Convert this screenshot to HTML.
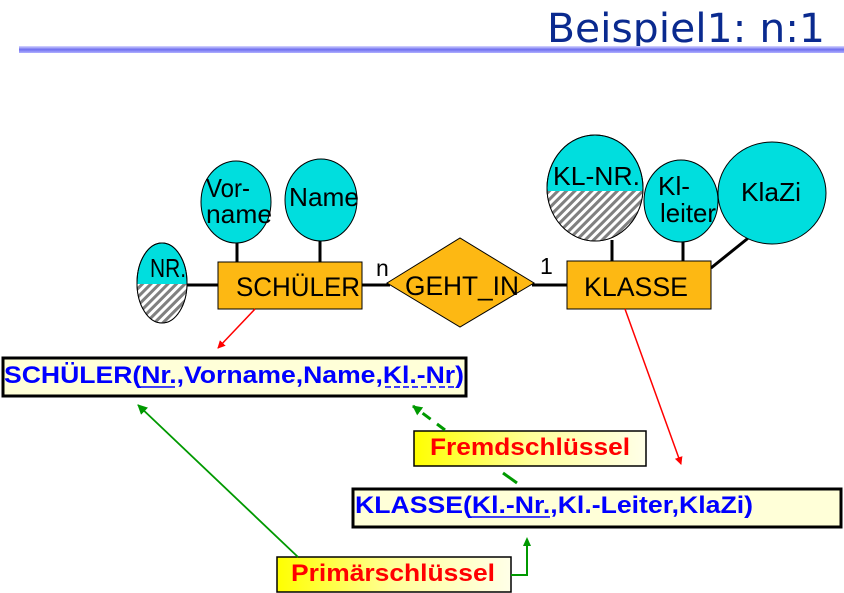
<!DOCTYPE html>
<html><head><meta charset="utf-8"><style>html,body{margin:0;padding:0;background:#fff}svg{display:block}</style></head>
<body>
<svg width="844" height="593" viewBox="0 0 844 593" xmlns="http://www.w3.org/2000/svg" font-family="Liberation Sans, Arial, sans-serif">
<defs>
<pattern id="h" width="6" height="6" patternUnits="userSpaceOnUse" patternTransform="rotate(45)">
<rect width="6" height="6" fill="#fff"/><rect width="3" height="6" fill="#808080"/></pattern>
<linearGradient id="bar" x1="0" y1="0" x2="0" y2="1"><stop offset="0" stop-color="#d8d8ff"/><stop offset="0.5" stop-color="#6f6ff0"/><stop offset="1" stop-color="#b0b0ff"/></linearGradient>
<linearGradient id="yg" x1="0" y1="0" x2="1" y2="0"><stop offset="0" stop-color="#ffff00"/><stop offset="0.5" stop-color="#ffff99"/><stop offset="1" stop-color="#ffffe8"/></linearGradient>
<clipPath id="c1"><ellipse cx="162" cy="283" rx="25" ry="40"/></clipPath>
<clipPath id="c2"><ellipse cx="595" cy="188" rx="48" ry="53"/></clipPath>
<marker id="ar" markerWidth="8" markerHeight="8" refX="7" refY="4" orient="auto" markerUnits="userSpaceOnUse"><path d="M0,0 L8,4 L0,8 Z" fill="red"/></marker>
<marker id="ag" markerWidth="10" markerHeight="10" refX="9" refY="5" orient="auto" markerUnits="userSpaceOnUse"><path d="M0,0 L10,5 L0,10 Z" fill="#009900"/></marker>
</defs>
<text x="547" y="42" font-family="DejaVu Sans, sans-serif" font-size="40" fill="#0a2a8f" textLength="278" lengthAdjust="spacingAndGlyphs">Beispiel1: n:1</text>
<rect x="19" y="46" width="825" height="7" fill="url(#bar)"/>

<g stroke="#000" stroke-width="3">
<line x1="187" y1="285" x2="218" y2="285"/>
<line x1="237" y1="243" x2="237" y2="262"/>
<line x1="320" y1="241" x2="320" y2="262"/>
<line x1="362" y1="285" x2="390" y2="285"/>
<line x1="532" y1="285" x2="567" y2="285"/>
<line x1="612" y1="240" x2="612" y2="261"/>
<line x1="683" y1="242" x2="683" y2="261"/>
<line x1="752" y1="235" x2="711" y2="268"/>
</g>
<g stroke="#000" stroke-width="1">
<ellipse cx="162" cy="283" rx="25" ry="40" fill="#00dede"/>
<rect x="130" y="284" width="70" height="45" fill="url(#h)" clip-path="url(#c1)" stroke="none"/>
<ellipse cx="162" cy="283" rx="25" ry="40" fill="none"/>
<ellipse cx="236" cy="202" rx="35" ry="41" fill="#00dede"/>
<ellipse cx="321" cy="200" rx="36" ry="41" fill="#00dede"/>
<ellipse cx="595" cy="188" rx="48" ry="53" fill="#00dede"/>
<rect x="540" y="191" width="110" height="60" fill="url(#h)" clip-path="url(#c2)" stroke="none"/>
<ellipse cx="595" cy="188" rx="48" ry="53" fill="none"/>
<ellipse cx="681" cy="201" rx="37" ry="41" fill="#00dede"/>
<ellipse cx="772" cy="193" rx="54" ry="51" fill="#00dede"/>
<rect x="218" y="262" width="144" height="47" fill="#fdb813"/>
<rect x="567" y="261" width="144" height="48" fill="#fdb813"/>
<polygon points="387,283 460,238 534,283 460,327" fill="#fdb813"/>
</g>
<g font-size="26" fill="#000">
<text x="150" y="277" textLength="36" lengthAdjust="spacingAndGlyphs">NR.</text>
<text x="206" y="197" textLength="44" lengthAdjust="spacingAndGlyphs">Vor-</text>
<text x="206" y="223" textLength="66" lengthAdjust="spacingAndGlyphs">name</text>
<text x="289" y="206" textLength="70" lengthAdjust="spacingAndGlyphs">Name</text>
<text x="236" y="296" font-size="27" textLength="124" lengthAdjust="spacingAndGlyphs">SCHÜLER</text>
<text x="405" y="295" font-size="27" textLength="114" lengthAdjust="spacingAndGlyphs">GEHT_IN</text>
<text x="584" y="296" font-size="27" textLength="104" lengthAdjust="spacingAndGlyphs">KLASSE</text>
<text x="553" y="185" textLength="87" lengthAdjust="spacingAndGlyphs">KL-NR.</text>
<text x="658" y="195" textLength="32" lengthAdjust="spacingAndGlyphs">Kl-</text>
<text x="660" y="222" textLength="56" lengthAdjust="spacingAndGlyphs">leiter</text>
<text x="741" y="201" textLength="60" lengthAdjust="spacingAndGlyphs">KlaZi</text>
<text x="376" y="276" font-size="23">n</text>
<text x="540" y="274" font-size="23">1</text>
</g>

<line x1="255" y1="309" x2="218" y2="348" stroke="red" stroke-width="1.5" marker-end="url(#ar)"/>
<line x1="625" y1="309" x2="681" y2="464" stroke="red" stroke-width="1.5" marker-end="url(#ar)"/>

<rect x="3" y="358" width="463" height="38" fill="#ffffd8" stroke="#000" stroke-width="3"/>
<text x="4" y="383" font-size="24" font-weight="bold" fill="#0000ff" textLength="460" lengthAdjust="spacingAndGlyphs">SCHÜLER(Nr.,Vorname,Name,Kl.-Nr)</text>
<line x1="140" y1="387" x2="175" y2="387" stroke="#0000ff" stroke-width="1.5"/>
<line x1="385" y1="387" x2="455" y2="387" stroke="#0000ff" stroke-width="1.5" stroke-dasharray="6,3"/>

<rect x="414" y="431" width="232" height="35" fill="url(#yg)" stroke="#000" stroke-width="1.5"/>
<text x="430" y="455" font-size="24" font-weight="bold" fill="red" textLength="200" lengthAdjust="spacingAndGlyphs">Fremdschlüssel</text>

<rect x="353" y="489" width="488" height="38" fill="#ffffd8" stroke="#000" stroke-width="3"/>
<text x="355" y="513" font-size="24" font-weight="bold" fill="#0000ff" textLength="398" lengthAdjust="spacingAndGlyphs">KLASSE(Kl.-Nr.,Kl.-Leiter,KlaZi)</text>
<line x1="470" y1="517" x2="550" y2="517" stroke="#0000ff" stroke-width="1.5"/>

<rect x="277" y="557" width="234" height="35" fill="url(#yg)" stroke="#000" stroke-width="1.5"/>
<text x="291" y="581" font-size="24" font-weight="bold" fill="red" textLength="204" lengthAdjust="spacingAndGlyphs">Primärschlüssel</text>

<line x1="298" y1="557" x2="138" y2="405" stroke="#009900" stroke-width="1.8" marker-end="url(#ag)"/>
<polyline points="511,575 527,575 527,542" fill="none" stroke="#009900" stroke-width="2"/>
<path d="M527,537 L531,546 L523,546 Z" fill="#009900"/>
<line x1="445" y1="430" x2="413" y2="406" stroke="#009900" stroke-width="3" stroke-dasharray="10,8" marker-end="url(#ag)"/>
<line x1="503" y1="473" x2="517" y2="483" stroke="#009900" stroke-width="3"/>
</svg>
</body></html>
